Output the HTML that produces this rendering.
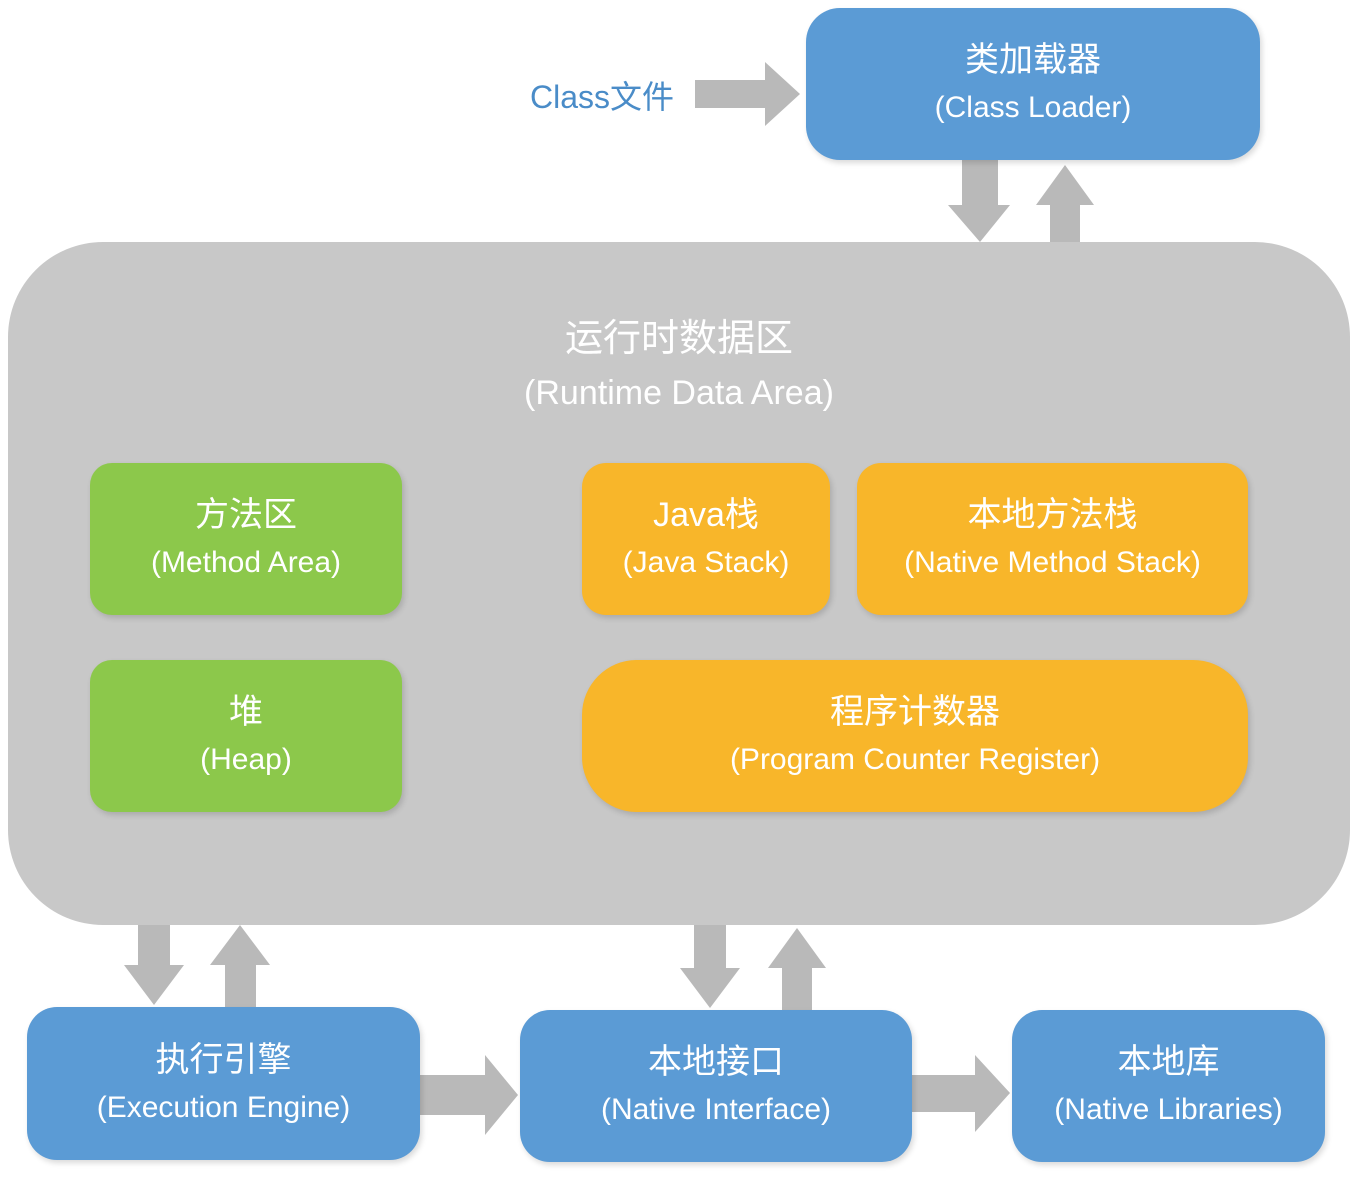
<!DOCTYPE html>
<html><head><meta charset="utf-8"><style>
body{margin:0;width:1357px;height:1204px;background:#fff;position:relative;overflow:hidden;font-family:"Liberation Sans","Noto Sans CJK SC",sans-serif;}
.b{position:absolute;display:flex;flex-direction:column;align-items:center;justify-content:center;color:#fff;text-align:center;line-height:48px;box-shadow:2px 3px 6px rgba(0,0,0,0.15);}
.b .c{font-size:34px;}
.b .e{font-size:30px;}
.blue{background:#5b9bd5;border-radius:34px;}
.green{background:#8cc84b;border-radius:22px;}
.orange{background:#f8b62a;border-radius:24px;}
</style></head><body>
<div style="position:absolute;left:8px;top:242px;width:1342px;height:683px;background:#c8c8c8;border-radius:95px;"></div>
<div style="position:absolute;left:8px;top:312px;width:1342px;text-align:center;color:#fff;line-height:54px;">
<div style="font-size:38px;">运行时数据区</div><div style="font-size:34px;">(Runtime Data Area)</div></div>
<svg width="1357" height="1204" style="position:absolute;left:0;top:0" fill="#b9b9b9">
<polygon points="695,80 765,80 765,62 800,94 765,126 765,108 695,108"/>
<polygon points="962,160 998,160 998,205 1010,205 980,242 948,205 962,205"/>
<polygon points="1050,242 1080,242 1080,205 1094,205 1065,165 1036,205 1050,205"/>
<polygon points="138,925 170,925 170,965 184,965 154,1005 124,965 138,965"/>
<polygon points="225,1007 256,1007 256,965 270,965 240,925 210,965 225,965"/>
<polygon points="694,925 726,925 726,968 740,968 710,1008 680,968 694,968"/>
<polygon points="782,1010 812,1010 812,968 826,968 797,928 768,968 782,968"/>
<polygon points="420,1075 485,1075 485,1055 518,1095 485,1135 485,1115 420,1115"/>
<polygon points="912,1075 975,1075 975,1055 1010,1093 975,1132 975,1112 912,1112"/>
</svg>
<div style="position:absolute;left:530px;top:72px;font-size:32px;color:#4a8cc8;">Class文件</div>
<div class="b blue" style="left:806px;top:8px;width:454px;height:152px;"><div class="c">类加载器</div><div class="e">(Class Loader)</div></div>
<div class="b green" style="left:90px;top:463px;width:312px;height:152px;"><div class="c">方法区</div><div class="e">(Method Area)</div></div>
<div class="b green" style="left:90px;top:660px;width:312px;height:152px;"><div class="c">堆</div><div class="e">(Heap)</div></div>
<div class="b orange" style="left:582px;top:463px;width:248px;height:152px;"><div class="c">Java栈</div><div class="e">(Java Stack)</div></div>
<div class="b orange" style="left:857px;top:463px;width:391px;height:152px;"><div class="c">本地方法栈</div><div class="e">(Native Method Stack)</div></div>
<div class="b orange" style="left:582px;top:660px;width:666px;height:152px;border-radius:55px;"><div class="c">程序计数器</div><div class="e">(Program Counter Register)</div></div>
<div class="b blue" style="left:27px;top:1007px;width:393px;height:153px;border-radius:30px;"><div class="c">执行引擎</div><div class="e">(Execution Engine)</div></div>
<div class="b blue" style="left:520px;top:1010px;width:392px;height:152px;border-radius:30px;"><div class="c">本地接口</div><div class="e">(Native Interface)</div></div>
<div class="b blue" style="left:1012px;top:1010px;width:313px;height:152px;border-radius:30px;"><div class="c">本地库</div><div class="e">(Native Libraries)</div></div>
</body></html>
